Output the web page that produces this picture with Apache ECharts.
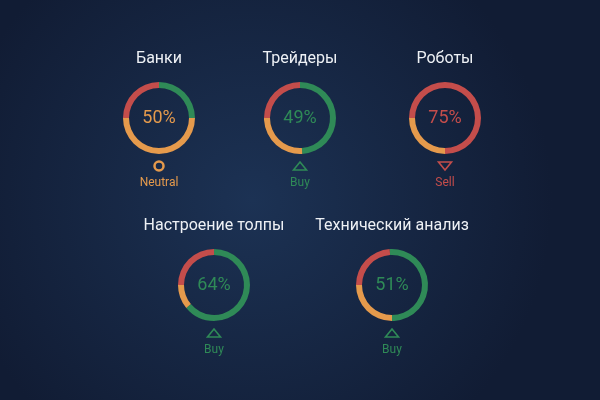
<!DOCTYPE html>
<html>
<head>
<meta charset="utf-8">
<script src="https://cdn.jsdelivr.net/npm/echarts@6/dist/echarts.min.js"></script>
<style>html,body{margin:0;padding:0;background:#15233f;}#c{width:600px;height:400px;}</style>
</head>
<body>
<div id="c"></div>
<script>
const categories = ['Банки', 'Трейдеры', 'Роботы', 'Настроение толпы', 'Технический анализ'];
const sellValues = [25, 25, 75, 25, 24];
const buyValues = [25, 49, 0, 64, 51];
const neutralValues = [50, 26, 25, 11, 25];
const signals = ['Neutral', 'Buy', 'Sell', 'Buy', 'Buy'];

const COLORS = { Sell: '#c44d4b', Buy: '#2f8a57', Neutral: '#e59a4c' };
const centers = [[159, 118], [300, 118], [445, 118], [214, 285], [392, 285]];
const FONT = 'Roboto, "Noto Sans", sans-serif';

const chart = echarts.init(document.getElementById('c'), null, { renderer: 'canvas' });

const series = [];
const graphics = [{
  type: 'rect', z: -10, silent: true,
  shape: { x: 0, y: 0, width: 600, height: 400 },
  style: {
    fill: new echarts.graphic.RadialGradient(0.42, 0.5, 0.75, [
      { offset: 0, color: '#1c3254' },
      { offset: 1, color: '#111c34' }
    ])
  }
}];

function txt(x, y, text, color, size) {
  return {
    type: 'text', x: x, y: y, silent: true,
    style: {
      text: text, fill: color, font: size + 'px ' + FONT,
      align: 'center', verticalAlign: 'middle',
      textAlign: 'center', textVerticalAlign: 'middle'
    }
  };
}

categories.forEach((name, i) => {
  const [cx, cy] = centers[i];
  const sig = signals[i];
  const col = COLORS[sig];
  const vals = { Sell: sellValues[i], Buy: buyValues[i], Neutral: neutralValues[i] };
  series.push({
    type: 'pie',
    center: [cx, cy],
    radius: [30, 36],
    startAngle: 180,
    clockwise: true,
    silent: true,
    label: { show: false },
    labelLine: { show: false },
    emphasis: { disabled: true },
    data: [
      { name: 'Sell', value: sellValues[i], itemStyle: { color: COLORS.Sell } },
      { name: 'Buy', value: buyValues[i], itemStyle: { color: COLORS.Buy } },
      { name: 'Neutral', value: neutralValues[i], itemStyle: { color: COLORS.Neutral } }
    ]
  });
  graphics.push(txt(cx, cy - 59, name, '#eef1f5', 16));
  graphics.push(txt(cx, cy, vals[sig] + '%', col, 18));
  const sy = cy + 48;
  if (sig === 'Neutral') {
    graphics.push({ type: 'circle', x: cx, y: sy, silent: true, shape: { cx: 0, cy: 0, r: 4.5 },
      style: { fill: 'none', stroke: col, lineWidth: 2.5 } });
  } else if (sig === 'Buy') {
    graphics.push({ type: 'polygon', x: cx, y: sy, silent: true,
      shape: { points: [[-6.5, 4], [6.5, 4], [0, -4]] },
      style: { fill: 'none', stroke: col, lineWidth: 1.6 } });
  } else {
    graphics.push({ type: 'polygon', x: cx, y: sy, silent: true,
      shape: { points: [[-6.5, -4], [6.5, -4], [0, 4]] },
      style: { fill: 'none', stroke: col, lineWidth: 1.6 } });
  }
  graphics.push(txt(cx, cy + 65, sig, col, 12));
});

chart.setOption({
  animation: false,
  backgroundColor: 'transparent',
  graphic: graphics,
  series: series
});
</script>
</body>
</html>
